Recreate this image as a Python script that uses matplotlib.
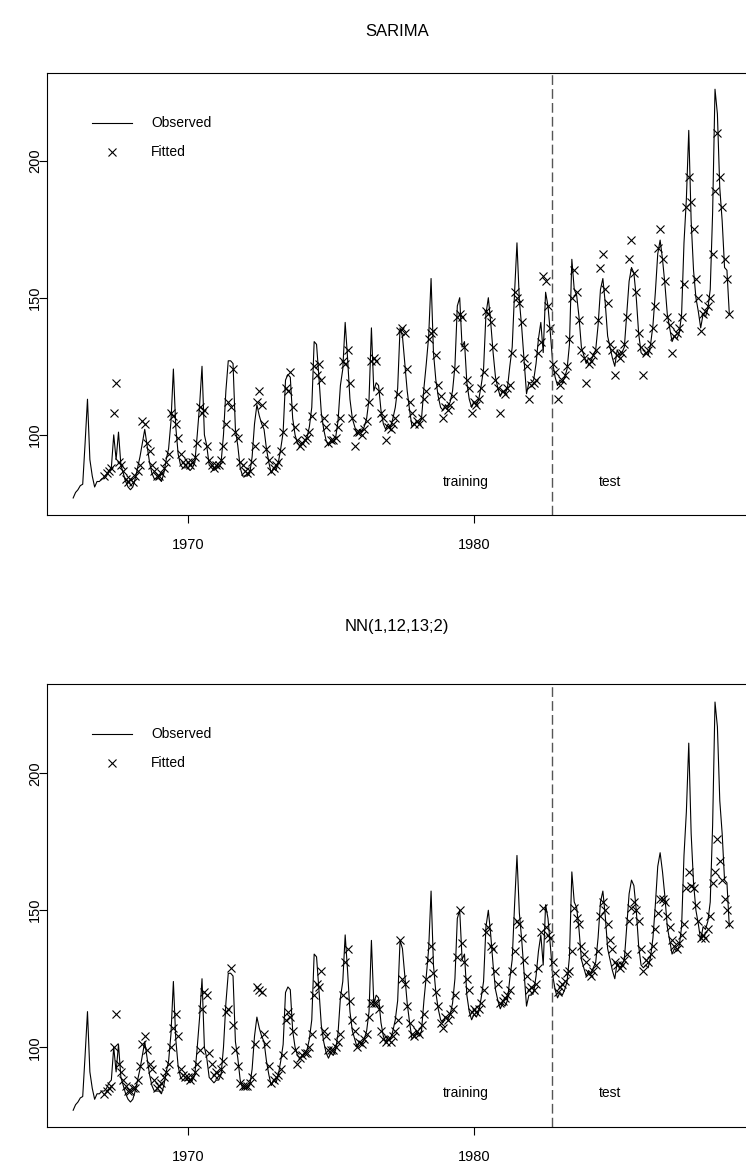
import numpy as np
import matplotlib
matplotlib.use('Agg')
import matplotlib.pyplot as plt

plt.rcParams['font.family'] = ['Liberation Sans', 'DejaVu Sans']

nan = np.nan
start_year = 1966
split_year = 1982.73   # training / test boundary

# monthly observed series, Jan 1966 .. Dec 1988
observed = [
    77, 79, 80, 81.5, 82, 97, 113, 91, 85, 81, 83, 83,          # 1966
    84, 84, 85, 87, 88, 100, 91, 101, 89, 86, 83, 81,           # 1967
    80, 81, 84, 88, 92, 97, 102, 96, 90, 86, 84, 84,            # 1968
    84, 83, 86, 91, 95, 105, 124, 103, 93, 89, 88, 88,          # 1969
    88, 87, 88, 90, 100, 111, 125, 100, 96, 89, 88, 87,         # 1970
    88, 88, 90, 100, 116, 127, 127, 126, 102, 96, 88, 85,       # 1971
    85, 85, 86, 92, 104, 111, 107, 104, 102, 95, 90, 86,        # 1972
    88, 87, 90, 95, 101, 120, 122, 121, 106, 100, 97, 96,       # 1973
    97, 98, 99, 103, 110, 134, 133, 121, 108, 102, 98, 96,      # 1974
    98, 97, 99, 105, 118, 124, 141, 128, 113, 106, 103, 100,    # 1975
    102, 101, 103, 106, 113, 139, 116, 119, 118, 109, 104, 102, # 1976
    104, 103, 106, 110, 117, 139, 136, 126, 116, 109, 103, 104, # 1977
    105, 104, 106, 117, 126, 136, 157, 130, 120, 114, 110, 109, # 1978
    111, 110, 112, 116, 125, 147, 150, 132, 134, 119, 113, 110, # 1979
    112, 111, 113, 118, 124, 144, 150, 141, 130, 121, 117, 114, # 1980
    116, 115, 117, 125, 132, 152, 170, 149, 139, 127, 115, 119, # 1981
    119, 120, 126, 135, 141, 130, 152, 147, 137, 126, 121, 118, # 1982
    120, 119, 121, 124, 133, 164, 153, 151, 143, 132, 129, 126, # 1983
    128, 127, 129, 131, 140, 153, 157, 148, 136, 132, 128, 125, # 1984
    131, 129, 130, 132, 144, 156, 161, 159, 150, 137, 130, 129, # 1985
    130, 129, 133, 140, 152, 166, 171, 164, 155, 144, 139, 134, # 1986
    136, 135, 137, 144, 170, 186, 211, 178, 160, 150, 145, 139, # 1987
    144, 143, 146, 153, 181, 226, 217, 190, 178, 161, 160, 144, # 1988
]

# SARIMA fitted values (first 13 months have none)
sarima_fit = [nan] * 12 + [
    nan, 85, 86, 87, 88, 108, 119, 90, 89, 87, 84, 83,          # 1967
    84, 83, 85, 87, 89, 105, 104, 97, 94, 89, 87, 85,           # 1968
    85, 86, 88, 90, 93, 108, 107, 104, 99, 93, 90, 89,          # 1969
    90, 89, 90, 92, 97, 110, 108, 109, 96, 91, 89, 88,          # 1970
    89, 89, 91, 96, 104, 112, 110, 124, 101, 99, 90, 89,        # 1971
    87, 86, 87, 90, 96, 112, 116, 111, 104, 95, 91, 87,         # 1972
    88, 89, 90, 94, 101, 117, 116, 123, 110, 103, 98, 96,       # 1973
    97, 98, 99, 101, 107, 125, 122, 126, 120, 106, 103, 97,     # 1974
    98, 98, 99, 103, 106, 127, 126, 131, 119, 106, 96, 101,     # 1975
    101, 100, 102, 105, 112, 127, 128, 127, 116, 108, 106, 98,  # 1976
    103, 102, 104, 106, 115, 138, 139, 137, 124, 112, 108, 104, # 1977
    105, 104, 106, 113, 116, 135, 137, 138, 129, 118, 114, 106, # 1978
    110, 109, 111, 114, 124, 143, 144, 143, 132, 120, 117, 108, # 1979
    112, 111, 113, 117, 123, 145, 144, 141, 132, 120, 117, 108, # 1980
    116, 115, 117, 118, 130, 152, 150, 148, 141, 128, 125, 113, # 1981
    118, 119, 120, 130, 134, 158, 156, 147, 139, 126, 123, 113, # 1982
    118, 120, 122, 125, 135, 150, 160, 152, 142, 131, 128, 119, # 1983
    126, 127, 129, 131, 142, 161, 166, 153, 148, 133, 131, 122, # 1984
    129, 128, 130, 133, 143, 164, 171, 159, 152, 137, 132, 122, # 1985
    130, 131, 133, 139, 147, 168, 175, 164, 156, 143, 140, 130, # 1986
    136, 137, 139, 143, 155, 183, 194, 185, 175, 157, 150, 138, # 1987
    144, 145, 147, 150, 166, 189, 210, 194, 183, 164, 157, 144, # 1988
]

# NN(1,12,13;2) fitted values
nn_fit = [nan] * 12 + [
    nan, 83, 84, 85, 86, 100, 112, 94, 91, 88, 86, 84,          # 1967
    84, 85, 85, 88, 93, 101, 104, 99, 94, 92, 88, 85,           # 1968
    86, 87, 89, 91, 94, 100, 107, 112, 104, 92, 90, 89,         # 1969
    89, 88, 89, 91, 94, 99, 114, 120, 119, 98, 94, 90,          # 1970
    91, 90, 92, 95, 113, 114, 129, 108, 99, 93, 87, 86,         # 1971
    86, 86, 87, 89, 101, 122, 121, 120, 105, 101, 93, 87,       # 1972
    88, 89, 90, 92, 97, 110, 113, 111, 106, 99, 94, 96,         # 1973
    97, 98, 98, 100, 105, 119, 123, 122, 128, 106, 104, 99,     # 1974
    99, 99, 100, 102, 105, 119, 131, 136, 117, 110, 106, 100,   # 1975
    102, 101, 103, 105, 111, 116, 116, 116, 114, 106, 103, 102, # 1976
    103, 102, 104, 106, 110, 139, 125, 123, 115, 109, 105, 104, # 1977
    106, 105, 108, 112, 125, 132, 137, 127, 120, 115, 109, 107, # 1978
    111, 110, 112, 114, 119, 133, 150, 138, 131, 125, 121, 113, # 1979
    114, 113, 114, 116, 121, 142, 144, 137, 136, 128, 123, 116, # 1980
    117, 118, 119, 121, 128, 135, 146, 145, 140, 132, 126, 121, # 1981
    122, 121, 123, 129, 142, 151, 144, 141, 140, 131, 127, 120, # 1982
    122, 123, 124, 127, 128, 135, 151, 147, 145, 137, 134, 131, # 1983
    127, 126, 128, 130, 135, 148, 153, 150, 145, 139, 136, 131, # 1984
    130, 129, 130, 132, 134, 146, 151, 153, 150, 146, 136, 128, # 1985
    132, 131, 134, 137, 143, 149, 154, 154, 153, 148, 144, 139, # 1986
    137, 136, 138, 141, 145, 158, 164, 159, 158, 152, 146, 140, # 1987
    141, 140, 143, 148, 160, 164, 176, 168, 161, 154, 150, 145, # 1988
]

t = start_year + np.arange(len(observed)) / 12.0

fig = plt.figure(figsize=(7.46, 11.63), dpi=100)
ax1 = fig.add_axes([0.0630, 0.5572, 0.9497, 0.3800])
ax2 = fig.add_axes([0.0630, 0.0310, 0.9497, 0.3809])


def panel(ax, fitted, title, title_y, ylim, txt_y):
    ax.plot(t, observed, color='black', lw=0.8)
    ax.plot(t, fitted, ls='none', marker='x', color='black', ms=6, mew=0.8)
    ax.axvline(split_year, color='#555555', lw=1, dashes=(7, 3))
    ax.set_xlim(1965.086, 1989.83)
    ax.set_ylim(*ylim)
    ax.set_xticks([1970, 1980])
    ax.set_yticks([100, 150, 200])
    ax.tick_params(axis='both', direction='out', length=5.5, width=0.8,
                   labelsize=10.5, colors='black')
    ax.tick_params(axis='x', pad=11)
    ax.tick_params(axis='y', pad=-2)
    for lab in ax.get_yticklabels():
        lab.set_rotation(90)
        lab.set_va('center')
    for s in ax.spines.values():
        s.set_linewidth(0.8)
    fig.text(0.532, title_y, title, ha='center', va='center', fontsize=12)
    ax.text(1979.72, txt_y, 'training', ha='center', va='center', fontsize=10)
    ax.text(1984.75, txt_y, 'test', ha='center', va='center', fontsize=10)
    # legend
    ax.plot([0.0635, 0.120], [0.886, 0.886], color='black', lw=0.8,
            transform=ax.transAxes)
    ax.plot([0.0917], [0.822], marker='x', color='black', ms=6, mew=0.8,
            transform=ax.transAxes)
    ax.text(0.147, 0.886, 'Observed', transform=ax.transAxes, va='center',
            fontsize=10)
    ax.text(0.147, 0.822, 'Fitted', transform=ax.transAxes, va='center',
            fontsize=10)


panel(ax1, sarima_fit, 'SARIMA', 0.9725, (70.8, 231.9), 82.8)
panel(ax2, nn_fit, 'NN(1,12,13;2)', 0.4609, (70.9, 232.6), 83.2)

fig.savefig('out.png', dpi=100)
